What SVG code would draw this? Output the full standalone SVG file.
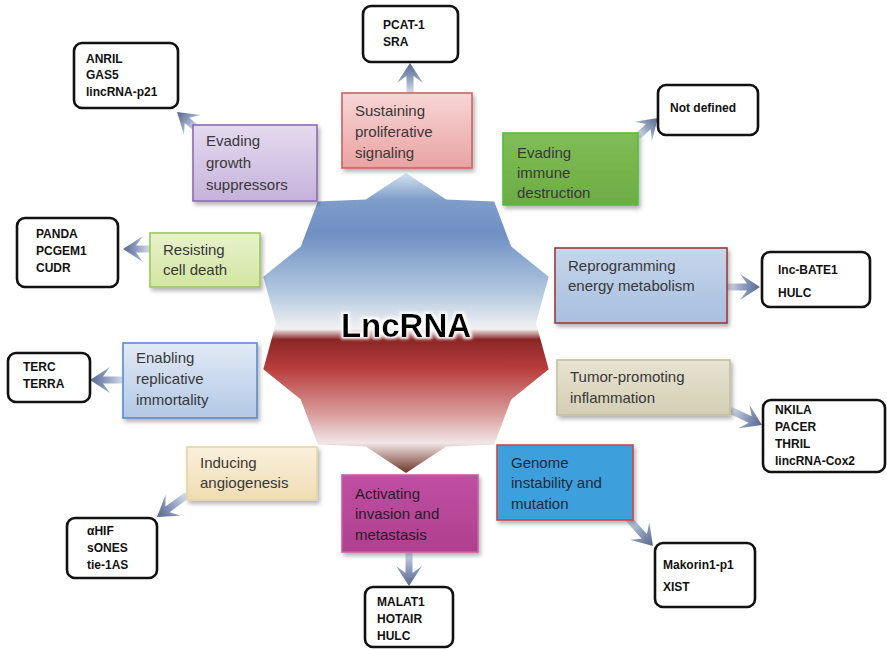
<svg xmlns="http://www.w3.org/2000/svg" width="887" height="649" viewBox="0 0 887 649">
<defs>
<style>
.cat{font-family:"Liberation Sans",Arial,sans-serif;font-size:15px;fill:#383838}
.lbl{font-family:"Liberation Sans",Arial,sans-serif;font-size:12px;font-weight:bold;fill:#111}
.lbox{fill:#fff;stroke:#111;stroke-width:2.6}
.cbox{stroke-width:1.6;filter:url(#sh)}
.arr{fill:url(#ag)}
</style>
<filter id="sh" x="-10%" y="-10%" width="125%" height="130%">
<feDropShadow dx="2" dy="3" stdDeviation="2" flood-color="#000" flood-opacity="0.3"/>
</filter>
<filter id="glow" x="-10%" y="-30%" width="120%" height="160%">
<feMorphology in="SourceAlpha" operator="dilate" radius="2" result="d"/>
<feGaussianBlur in="d" stdDeviation="1.5" result="b"/>
<feFlood flood-color="#fff"/>
<feComposite in2="b" operator="in" result="w"/>
<feMerge><feMergeNode in="w"/><feMergeNode in="SourceGraphic"/></feMerge>
</filter>
<linearGradient id="star" x1="0" y1="0" x2="0" y2="1">
<stop offset="0" stop-color="#d3e2ee"/>
<stop offset="0.09" stop-color="#7f9dca"/>
<stop offset="0.2" stop-color="#6f8fc3"/>
<stop offset="0.4" stop-color="#b3c9e0"/>
<stop offset="0.52" stop-color="#f3f1f1"/>
<stop offset="0.555" stop-color="#8a2626"/>
<stop offset="0.65" stop-color="#b83c3c"/>
<stop offset="0.8" stop-color="#d99a9a"/>
<stop offset="0.9" stop-color="#f2e6e6"/>
<stop offset="1" stop-color="#6e3426"/>
</linearGradient>
<linearGradient id="ag" x1="0" y1="0" x2="1" y2="0">
<stop offset="0" stop-color="#d8dfeb"/>
<stop offset="0.5" stop-color="#8e9dbd"/>
<stop offset="1" stop-color="#56668f"/>
</linearGradient>
<linearGradient id="gPink" x1="0" y1="0" x2="0" y2="1"><stop offset="0" stop-color="#f8d6d6"/><stop offset="1" stop-color="#e9a2a2"/></linearGradient>
<linearGradient id="gPurple" x1="0" y1="0" x2="0" y2="1"><stop offset="0" stop-color="#e4dbef"/><stop offset="1" stop-color="#c6b2db"/></linearGradient>
<linearGradient id="gGreen" x1="0" y1="0" x2="0" y2="1"><stop offset="0" stop-color="#80bd56"/><stop offset="1" stop-color="#6dac44"/></linearGradient>
<linearGradient id="gYG" x1="0" y1="0" x2="0" y2="1"><stop offset="0" stop-color="#e8f2cc"/><stop offset="1" stop-color="#d2e5a2"/></linearGradient>
<linearGradient id="gLB" x1="0" y1="0" x2="0" y2="1"><stop offset="0" stop-color="#e2eaf6"/><stop offset="1" stop-color="#b3c8e6"/></linearGradient>
<linearGradient id="gRep" x1="0" y1="0" x2="0" y2="1"><stop offset="0" stop-color="#c6d6eb"/><stop offset="1" stop-color="#a8bfe0"/></linearGradient>
<linearGradient id="gTan" x1="0" y1="0" x2="0" y2="1"><stop offset="0" stop-color="#e8e3d3"/><stop offset="1" stop-color="#d4ceb4"/></linearGradient>
<linearGradient id="gMag" x1="0" y1="0" x2="0" y2="1"><stop offset="0" stop-color="#c04fa2"/><stop offset="1" stop-color="#ae408e"/></linearGradient>
<linearGradient id="gCream" x1="0" y1="0" x2="0" y2="1"><stop offset="0" stop-color="#faf1dc"/><stop offset="1" stop-color="#efdcb2"/></linearGradient>
</defs>
<rect width="887" height="649" fill="#fff"/>

<g id="center">
<polygon points="406,173 446.2,199.4 494.2,201.6 511.2,246.6 548.7,276.7 536,323 548.7,369.3 511.2,399.4 494.2,444.4 446.2,446.6 406,473 365.8,446.6 317.8,444.4 300.8,399.4 263.3,369.3 276,323 263.3,276.7 300.8,246.6 317.8,201.6 365.8,199.4" fill="url(#star)"/>
<text x="406" y="337" text-anchor="middle" filter="url(#glow)" style="font-family:'Liberation Sans',Arial,sans-serif;font-size:33px;font-weight:bold;fill:#000">LncRNA</text>
</g>

<g id="connectors">
<path class="arr" transform="translate(410,63) rotate(-90)" d="M0,0 L-20,-13 L-13,-3.5 L-30,-3.5 L-30,3.5 L-13,3.5 L-20,13 Z"/>
<path class="arr" transform="translate(177,112) rotate(-140)" d="M0,0 L-20,-13 L-13,-3.5 L-26,-3.5 L-26,3.5 L-13,3.5 L-20,13 Z"/>
<path class="arr" transform="translate(658,118) rotate(-42)" d="M0,0 L-20,-13 L-13,-3.5 L-27,-3.5 L-27,3.5 L-13,3.5 L-20,13 Z"/>
<path class="arr" transform="translate(123,249) rotate(180)" d="M0,0 L-20,-13 L-13,-3.5 L-27,-3.5 L-27,3.5 L-13,3.5 L-20,13 Z"/>
<path class="arr" transform="translate(90,380) rotate(180)" d="M0,0 L-20,-13 L-13,-3.5 L-33,-3.5 L-33,3.5 L-13,3.5 L-20,13 Z"/>
<path class="arr" transform="translate(760,287)" d="M0,0 L-20,-13 L-13,-3.5 L-33,-3.5 L-33,3.5 L-13,3.5 L-20,13 Z"/>
<path class="arr" transform="translate(762,425) rotate(25)" d="M0,0 L-20,-13 L-13,-3.5 L-35,-3.5 L-35,3.5 L-13,3.5 L-20,13 Z"/>
<path class="arr" transform="translate(653,546) rotate(48)" d="M0,0 L-20,-13 L-13,-3.5 L-37,-3.5 L-37,3.5 L-13,3.5 L-20,13 Z"/>
<path class="arr" transform="translate(409,586) rotate(90)" d="M0,0 L-20,-13 L-13,-3.5 L-34,-3.5 L-34,3.5 L-13,3.5 L-20,13 Z"/>
<path class="arr" transform="translate(157,517) rotate(144)" d="M0,0 L-20,-13 L-13,-3.5 L-37,-3.5 L-37,3.5 L-13,3.5 L-20,13 Z"/>
</g>

<g id="sustaining">
<rect class="cbox" x="342" y="93" width="130" height="75" fill="url(#gPink)" stroke="#c86464"/>
<text class="cat" x="355" y="116">Sustaining</text>
<text class="cat" x="355" y="137">proliferative</text>
<text class="cat" x="355" y="158">signaling</text>
</g>
<g id="evading-growth">
<rect class="cbox" x="193" y="125" width="124" height="76" fill="url(#gPurple)" stroke="#8e6cb0"/>
<text class="cat" x="206" y="146">Evading</text>
<text class="cat" x="206" y="168">growth</text>
<text class="cat" x="206" y="190">suppressors</text>
</g>
<g id="evading-immune">
<rect class="cbox" x="503" y="133" width="135" height="72" fill="url(#gGreen)" stroke="#4fc03f"/>
<text class="cat" x="517" y="158">Evading</text>
<text class="cat" x="517" y="178">immune</text>
<text class="cat" x="517" y="198">destruction</text>
</g>
<g id="resisting">
<rect class="cbox" x="150" y="233" width="110" height="54" fill="url(#gYG)" stroke="#9bc75a"/>
<text class="cat" x="163" y="255">Resisting</text>
<text class="cat" x="163" y="275">cell death</text>
</g>
<g id="enabling">
<rect class="cbox" x="123" y="343" width="134" height="75" fill="url(#gLB)" stroke="#5b8bd3"/>
<text class="cat" x="136" y="363">Enabling</text>
<text class="cat" x="136" y="384">replicative</text>
<text class="cat" x="136" y="405">immortality</text>
</g>
<g id="reprogramming">
<rect class="cbox" x="555" y="248" width="172" height="75" fill="url(#gRep)" stroke="#9a3c3c"/>
<text class="cat" x="568" y="271">Reprogramming</text>
<text class="cat" x="568" y="291">energy metabolism</text>
</g>
<g id="tumor">
<rect class="cbox" x="557" y="360" width="173" height="55" fill="url(#gTan)" stroke="#c6bf9e"/>
<text class="cat" x="570" y="382">Tumor-promoting</text>
<text class="cat" x="570" y="403">inflammation</text>
</g>
<g id="genome">
<rect class="cbox" x="497" y="445" width="136" height="75" fill="#3d9fdc" stroke="#c84848"/>
<text class="cat" x="511" y="468" style="fill:#1c2a3c">Genome</text>
<text class="cat" x="511" y="488" style="fill:#1c2a3c">instability and</text>
<text class="cat" x="511" y="509" style="fill:#1c2a3c">mutation</text>
</g>
<g id="activating">
<rect class="cbox" x="342" y="475" width="136" height="77" fill="url(#gMag)" stroke="#c460a8"/>
<text class="cat" x="355" y="499" style="fill:#2a1a2c">Activating</text>
<text class="cat" x="355" y="519" style="fill:#2a1a2c">invasion and</text>
<text class="cat" x="355" y="540" style="fill:#2a1a2c">metastasis</text>
</g>
<g id="inducing">
<rect class="cbox" x="187" y="447" width="130" height="53" fill="url(#gCream)" stroke="#e6d4a8"/>
<text class="cat" x="200" y="468">Inducing</text>
<text class="cat" x="200" y="488">angiogenesis</text>
</g>

<g id="l-pcat">
<rect class="lbox" x="363" y="6" width="95" height="56" rx="8"/>
<text class="lbl" x="383" y="29">PCAT-1</text>
<text class="lbl" x="383" y="46">SRA</text>
</g>
<g id="l-anril">
<rect class="lbox" x="74" y="43" width="104" height="65" rx="8"/>
<text class="lbl" x="86" y="63">ANRIL</text>
<text class="lbl" x="86" y="79">GAS5</text>
<text class="lbl" x="86" y="96">lincRNA-p21</text>
</g>
<g id="l-notdefined">
<rect class="lbox" x="658" y="85" width="100" height="50" rx="8"/>
<text class="lbl" x="670" y="112">Not defined</text>
</g>
<g id="l-panda">
<rect class="lbox" x="17" y="218" width="101" height="69" rx="8"/>
<text class="lbl" x="36" y="238">PANDA</text>
<text class="lbl" x="36" y="255">PCGEM1</text>
<text class="lbl" x="36" y="272">CUDR</text>
</g>
<g id="l-terc">
<rect class="lbox" x="8" y="353" width="82" height="49" rx="8"/>
<text class="lbl" x="23" y="371">TERC</text>
<text class="lbl" x="23" y="388">TERRA</text>
</g>
<g id="l-bate">
<rect class="lbox" x="762" y="252" width="108" height="55" rx="8"/>
<text class="lbl" x="778" y="274">lnc-BATE1</text>
<text class="lbl" x="778" y="297">HULC</text>
</g>
<g id="l-nkila">
<rect class="lbox" x="763" y="400" width="122" height="72" rx="8"/>
<text class="lbl" x="775" y="414">NKILA</text>
<text class="lbl" x="775" y="431">PACER</text>
<text class="lbl" x="775" y="448">THRIL</text>
<text class="lbl" x="775" y="465">lincRNA-Cox2</text>
</g>
<g id="l-makorin">
<rect class="lbox" x="655" y="543" width="100" height="64" rx="8"/>
<text class="lbl" x="663" y="569">Makorin1-p1</text>
<text class="lbl" x="663" y="591">XIST</text>
</g>
<g id="l-malat">
<rect class="lbox" x="365" y="587" width="88" height="60" rx="8"/>
<text class="lbl" x="377" y="606">MALAT1</text>
<text class="lbl" x="377" y="623">HOTAIR</text>
<text class="lbl" x="377" y="640">HULC</text>
</g>
<g id="l-hif">
<rect class="lbox" x="67" y="518" width="90" height="60" rx="8"/>
<text class="lbl" x="87" y="535">αHIF</text>
<text class="lbl" x="87" y="552">sONES</text>
<text class="lbl" x="87" y="569">tie-1AS</text>
</g>
</svg>
